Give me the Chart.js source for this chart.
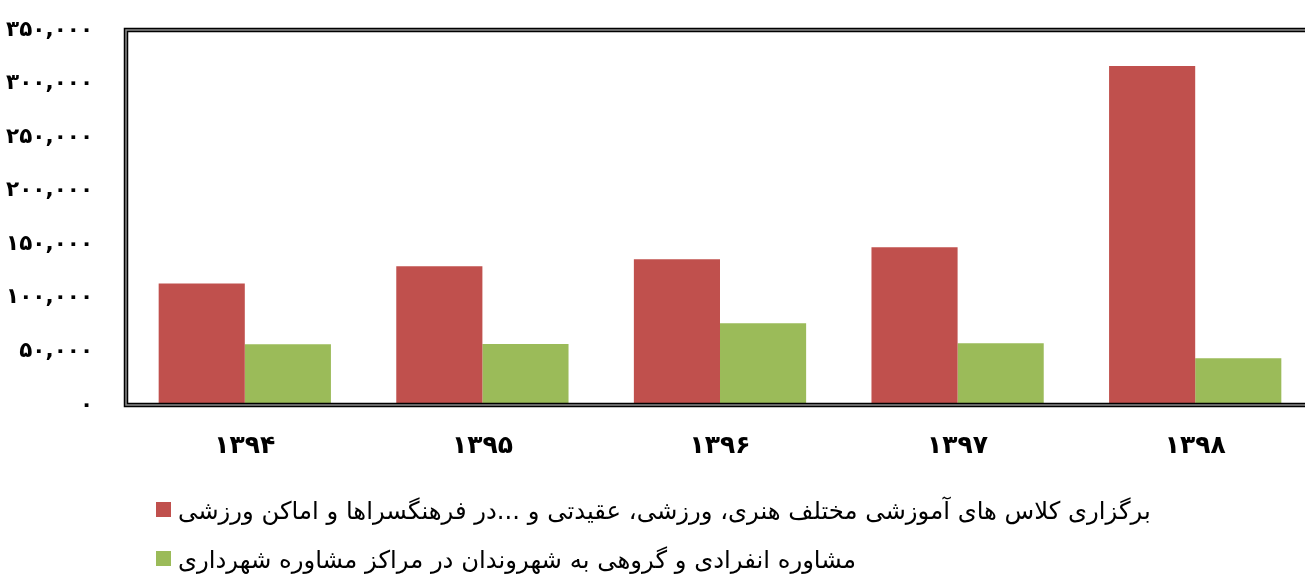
<!DOCTYPE html>
<html lang="fa">
<head>
<meta charset="utf-8">
<title>نمودار خدمات فرهنگی و مشاوره</title>
<script src="https://cdn.jsdelivr.net/npm/chart.js@4/dist/chart.umd.min.js"></script>
<style>
  html, body { margin: 0; padding: 0; background: #fff; overflow: hidden; }
  #wrap { width: 1320px; height: 578px; }
</style>
</head>
<body>
<div id="wrap"><canvas id="chart" width="1320" height="578"></canvas></div>
<script>
// Years (Persian calendar)
const categories = ['۱۳۹۴', '۱۳۹۵', '۱۳۹۶', '۱۳۹۷', '۱۳۹۸'];

// Series values
const classesValues = [113500, 129400, 136000, 147200, 316400];
const counselingValues = [56600, 56900, 76200, 57600, 43600];

// Series names
const seriesNames = [
  'برگزاری کلاس های آموزشی مختلف هنری، ورزشی، عقیدتی و ...در فرهنگسراها و اماکن ورزشی',
  'مشاوره انفرادی و گروهی به شهروندان در مراکز مشاوره شهرداری'
];
const seriesColors = ['#C0504D', '#9BBB59'];

// Value axis
const yMin = 0;
const yMax = 350000;
const yStep = 50000;

const faDigits = '۰۱۲۳۴۵۶۷۸۹';
function toFa(str) {
  return String(str).replace(/[0-9]/g, d => faDigits[+d]);
}

// Double-line frame on the top, left and bottom sides of the plot
const framePlugin = {
  id: 'frame',
  afterDatasetsDraw(chart) {
    const { ctx, chartArea: a } = chart;
    ctx.save();
    const path = () => {
      ctx.beginPath();
      ctx.moveTo(a.right + 10, a.top);
      ctx.lineTo(a.left, a.top);
      ctx.lineTo(a.left, a.bottom);
      ctx.lineTo(a.right + 10, a.bottom);
    };
    ctx.lineJoin = 'miter';
    ctx.strokeStyle = '#000';
    ctx.lineWidth = 4.5;
    path(); ctx.stroke();
    ctx.strokeStyle = '#8a8a8a';
    ctx.lineWidth = 1.5;
    path(); ctx.stroke();
    ctx.restore();
  }
};

// Legend rows below the axis
const legendPlugin = {
  id: 'rowsLegend',
  afterDraw(chart) {
    const { ctx } = chart;
    const rows = [509, 558];
    ctx.save();
    chart.data.datasets.forEach((ds, i) => {
      const y = rows[i];
      ctx.fillStyle = ds.backgroundColor;
      ctx.fillRect(156, y - 7, 15, 15);
      ctx.fillStyle = '#000';
      ctx.font = '24.3px "DejaVu Sans"';
      ctx.direction = 'rtl';
      ctx.textAlign = 'left';
      ctx.textBaseline = 'middle';
      ctx.fillText(ds.label, 178, y + 4);
    });
    ctx.restore();
  }
};

const chart = new Chart(document.getElementById('chart'), {
  type: 'bar',
  data: {
    labels: categories,
    datasets: [
      { label: seriesNames[0], data: classesValues, backgroundColor: seriesColors[0] },
      { label: seriesNames[1], data: counselingValues, backgroundColor: seriesColors[1] }
    ]
  },
  options: {
    responsive: false,
    animation: false,
    layout: { padding: { top: 30, right: 6, left: 0, bottom: 0 } },
    plugins: {
      legend: { display: false },
      tooltip: { enabled: false }
    },
    datasets: {
      bar: { categoryPercentage: 0.725, barPercentage: 1.0, borderWidth: 0 }
    },
    scales: {
      x: {
        grid: { display: false, drawTicks: false },
        border: { display: false },
        ticks: {
          color: '#000',
          padding: 26,
          font: { family: '"DejaVu Sans"', size: 25, weight: 'bold' }
        },
        afterFit(scale) {
          scale.height = 173;
          scale.paddingLeft = 0;
          scale.paddingRight = 0;
        }
      },
      y: {
        min: yMin,
        max: yMax,
        grid: { display: false, drawTicks: false },
        border: { display: false },
        ticks: {
          stepSize: yStep,
          color: '#000',
          padding: 33,
          font: { family: '"DejaVu Sans"', size: 21.5, weight: 'bold' },
          callback: v => toFa(Number(v).toLocaleString('en-US'))
        },
        afterFit(scale) {
          scale.width = 126;
          scale.paddingTop = 0;
          scale.paddingBottom = 0;
        }
      }
    }
  },
  plugins: [framePlugin, legendPlugin]
});
</script>
</body>
</html>
